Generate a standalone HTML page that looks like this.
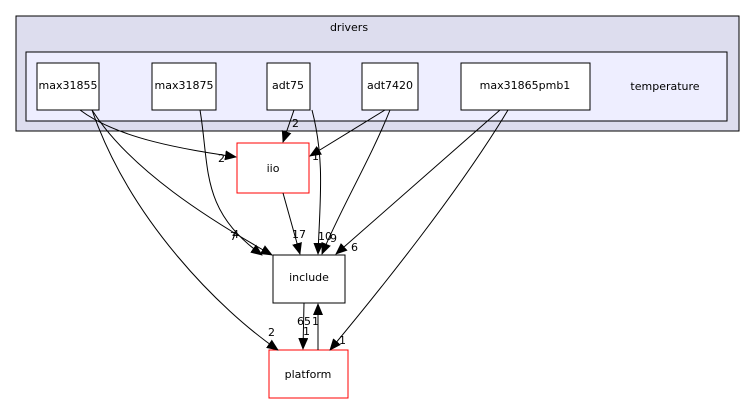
<!DOCTYPE html>
<html><head><style>body{margin:0;background:#fff}svg{display:block}text{font-family:"DejaVu Sans","Liberation Sans",sans-serif;font-size:11px}</style></head><body>
<svg width="755" height="404" viewBox="0 0 755 404" xmlns="http://www.w3.org/2000/svg">
<defs><marker id="a" markerWidth="12" markerHeight="10" refX="11" refY="5" orient="auto" markerUnits="userSpaceOnUse"><path d="M0,0L12,5L0,10z" fill="#000"/></marker></defs>
<rect x="16" y="16" width="723" height="115" fill="#ddddee" stroke="#000"/>
<text x="349" y="31" text-anchor="middle">drivers</text>
<rect x="26" y="52" width="701" height="69" fill="#eeeeff" stroke="#000"/>
<text x="665" y="90" text-anchor="middle">temperature</text>
<g fill="#fff" stroke="#000">
<rect x="37" y="63" width="62" height="47"/><rect x="152" y="63" width="64" height="47"/>
<rect x="267" y="63" width="43" height="47"/><rect x="362" y="63" width="56" height="47"/>
<rect x="461" y="63" width="129" height="47"/>
<rect x="237" y="143" width="72" height="50" stroke="#f00"/>
<rect x="273" y="255" width="72" height="48"/>
<rect x="269" y="350" width="79" height="48" stroke="#f00"/>
</g>
<g text-anchor="middle">
<text x="68" y="89">max31855</text><text x="184" y="89">max31875</text><text x="288" y="89">adt75</text>
<text x="390" y="89">adt7420</text><text x="525" y="89">max31865pmb1</text>
<text x="273" y="172">iio</text><text x="309" y="281">include</text><text x="308" y="378">platform</text>
</g>
<g fill="none" stroke="#000" marker-end="url(#a)">
<path d="M80,110C120,140 190,150 236,157"/>
<path d="M92,110C130,170 210,220 272,255"/>
<path d="M92,110C130,220 220,310 278,350"/>
<path d="M200,110C210,170 200,210 262,255"/>
<path d="M294,110L283,142"/>
<path d="M312,110C325,160 320,200 318,254"/>
<path d="M385,110L310,156"/>
<path d="M390,110C370,160 340,210 322,254"/>
<path d="M500,110L336,254"/>
<path d="M508,110C460,190 380,290 330,350"/>
<path d="M283,193L300,254"/>
<path d="M304,303L303,349"/>
<path d="M318,350L318,304"/>
</g>
<g font-size="10">
<text x="218" y="162">2</text><text x="230" y="240">7</text><text x="232" y="238">4</text>
<text x="268" y="336">2</text><text x="292" y="127">2</text><text x="312" y="160">1</text>
<text x="292" y="238">17</text><text x="318" y="240">10</text><text x="330" y="242">9</text>
<text x="351" y="251">6</text><text x="339" y="344">1</text>
<text x="297" y="325">65</text><text x="312" y="325">1</text><text x="303" y="335">1</text>
</g>
</svg></body></html>
